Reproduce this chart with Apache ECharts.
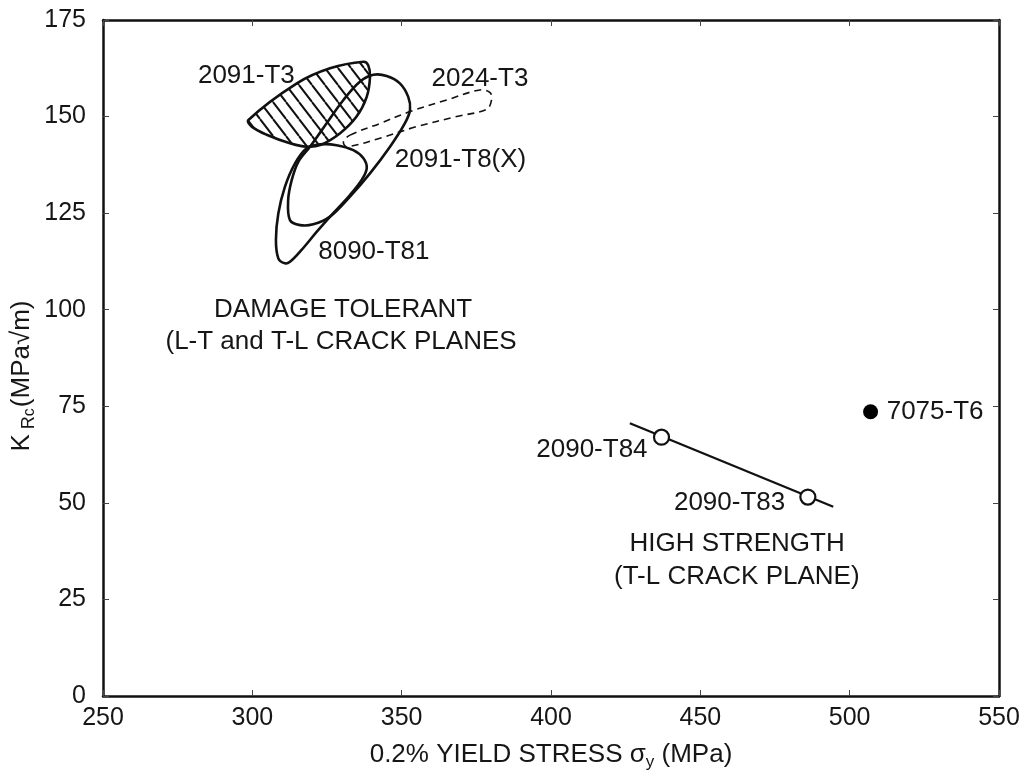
<!DOCTYPE html>
<html>
<head>
<meta charset="utf-8">
<script src="https://cdn.jsdelivr.net/npm/echarts@6/dist/echarts.min.js"></script>
<style>
  html, body { margin: 0; padding: 0; background: #fff; }
  #chart { width: 1029px; height: 772px; }
</style>
</head>
<body>
<div id="chart"></div>
<script>
// Axis ranges: 0.2% yield stress (MPa) and K_Rc (MPa√m)
const xRange = [250, 550, 50];
const yRange = [0, 175, 25];

// Outlines of the property bands, [yield stress, K_Rc]
const band2091T3 = [
  [298.7, 149.1], [314.9, 158.6], [326.0, 162.5], [337.2, 164.2], [338.8, 163.3],
  [339.4, 160.3], [338.3, 155.1], [334.9, 150.0], [329.4, 145.7], [322.7, 142.6],
  [318.2, 142.2], [312.6, 143.1], [304.8, 145.3], [299.8, 147.4]
];
const band2091T8X = [
  [312.6, 123.2], [312.0, 128.4], [313.2, 133.6], [315.4, 138.3], [319.3, 142.2],
  [324.9, 148.3], [330.5, 154.3], [336.0, 159.0], [340.5, 160.8], [345.0, 160.5],
  [349.4, 158.6], [352.2, 155.1], [352.8, 151.7], [351.1, 148.3], [346.1, 142.2],
  [339.4, 135.3], [332.7, 129.3], [326.0, 124.1], [320.4, 122.1], [316.0, 121.9]
];
const band8090T81 = [
  [310.9, 112.0], [308.7, 113.3], [307.9, 118.1], [308.7, 124.9], [310.9, 131.8],
  [314.3, 137.9], [318.2, 141.8], [322.7, 142.8], [328.2, 142.6], [333.8, 141.3],
  [337.2, 139.2], [338.3, 136.6], [336.6, 133.6], [332.7, 129.7], [327.1, 125.0],
  [321.6, 120.2], [316.5, 115.5], [312.6, 112.4]
];
const band2024T3 = [
  [332.7, 145.2], [342.7, 148.2], [352.8, 151.3], [365.1, 154.3], [376.2, 156.9],
  [379.6, 156.2], [380.1, 154.3], [378.5, 151.9], [368.4, 150.0], [355.0, 147.4],
  [342.7, 144.4], [331.6, 142.2], [330.5, 143.5]
];

// High-strength alloys
const trend2090 = [[426.4, 70.6], [494.5, 49.0]];
const alloys2090 = [[437.0, 67.0], [486.0, 51.5]];
const alloy7075 = [[507.0, 73.6]];

// Text notes anchored at [yield stress, K_Rc]
const notes = [
  [298.0, 160.6, '2091-T3'],
  [376.2, 159.9, '2024-T3'],
  [369.7, 138.8, '2091-T8(X)'],
  [340.7, 115.0, '8090-T81'],
  [330.4, 99.9, 'DAMAGE TOLERANT'],
  [329.7, 91.7, '(L-T and T-L CRACK PLANES'],
  [413.7, 63.6, '2090-T84'],
  [459.8, 50.0, '2090-T83'],
  [462.3, 39.3, 'HIGH STRENGTH'],
  [462.2, 30.8, '(T-L CRACK PLANE)'],
  [528.6, 73.6, '7075-T6']
];

const FONT = '"Liberation Sans", Arial, Helvetica, sans-serif';
const INK = '#111';
const TEXT = '#161616';

// Diagonal hatching used to fill the 2091-T3 band
function hatchPattern() {
  const w = 13, h = 17;
  const c = document.createElement('canvas');
  c.width = w; c.height = h;
  const g = c.getContext('2d');
  g.strokeStyle = INK;
  g.lineWidth = 2;
  g.beginPath();
  for (const dx of [-w, 0, w]) {
    g.moveTo(dx, 0);
    g.lineTo(dx + w, h);
  }
  g.stroke();
  return c;
}
const hatch = hatchPattern();

// One closed, smoothed outline per band, projected through the cartesian axes
function outlineSeries(points, style) {
  return {
    type: 'custom',
    coordinateSystem: 'cartesian2d',
    data: points,
    silent: true,
    z: style.z || 2,
    renderItem: function (params, api) {
      if (params.dataIndex !== 0) return;
      const pts = points.map(p => api.coord(p));
      return {
        type: 'polygon',
        shape: { points: pts, smooth: 0.35 },
        style: {
          fill: style.fill || 'none',
          stroke: INK,
          lineWidth: style.lineWidth || 2.6,
          lineDash: style.lineDash || null
        }
      };
    }
  };
}

const chart = echarts.init(document.getElementById('chart'), null, { renderer: 'canvas' });

const axisCommon = {
  type: 'value',
  axisLine: { show: true, onZero: false, lineStyle: { color: INK, width: 2.5 } },
  axisTick: { show: true, inside: true, length: 6, lineStyle: { color: '#444', width: 1 } },
  splitLine: { show: false }
};

chart.setOption({
  backgroundColor: '#fff',
  animation: false,
  grid: { left: 103, right: 30, top: 20, bottom: 76, containLabel: false, outerBoundsMode: 'none' },
  xAxis: [
    Object.assign({}, axisCommon, {
      min: xRange[0], max: xRange[1], interval: xRange[2],
      position: 'bottom',
      axisLabel: { color: TEXT, fontFamily: FONT, fontSize: 25, margin: 10 },
      name: '{t|0.2% YIELD STRESS σ}{s|y}{t| (MPa)}',
      nameLocation: 'middle',
      nameGap: 43,
      nameTextStyle: {
        rich: {
          t: { fontFamily: FONT, fontSize: 26, color: TEXT, lineHeight: 32 },
          s: { fontFamily: FONT, fontSize: 17, color: TEXT, verticalAlign: 'bottom', padding: [10, 0, 0, 0] }
        }
      }
    }),
    Object.assign({}, axisCommon, {
      min: xRange[0], max: xRange[1], interval: xRange[2],
      position: 'top',
      axisLabel: { show: false }
    })
  ],
  yAxis: [
    Object.assign({}, axisCommon, {
      min: yRange[0], max: yRange[1], interval: yRange[2],
      position: 'left',
      axisLabel: { color: TEXT, fontFamily: FONT, fontSize: 25, margin: 17 }
    }),
    Object.assign({}, axisCommon, {
      min: yRange[0], max: yRange[1], interval: yRange[2],
      position: 'right',
      axisLabel: { show: false }
    })
  ],
  graphic: [{
    type: 'text',
    x: 22,
    y: 376,
    rotation: Math.PI / 2,
    style: {
      text: '{t|K}{r| R}{c|c}{t|(MPa√m)}',
      align: 'center',
      verticalAlign: 'middle',
      rich: {
        t: { fontFamily: FONT, fontSize: 26, fill: TEXT, lineHeight: 32 },
        r: { fontFamily: FONT, fontSize: 18, fill: TEXT, verticalAlign: 'bottom', padding: [6, 0, 0, 0] },
        c: { fontFamily: FONT, fontSize: 16, fill: TEXT, verticalAlign: 'bottom', padding: [10, 1, 0, 0] }
      }
    }
  }],
  series: [
    outlineSeries(band2024T3, { lineWidth: 1.6, lineDash: [7, 5], z: 1 }),
    outlineSeries(band8090T81, { z: 2 }),
    outlineSeries(band2091T8X, { z: 3 }),
    outlineSeries(band2091T3, { fill: { image: hatch, repeat: 'repeat' }, z: 4 }),
    {
      type: 'line',
      data: trend2090,
      symbol: 'none',
      silent: true,
      lineStyle: { color: INK, width: 2.3, opacity: 1 },
      z: 5
    },
    {
      type: 'scatter',
      data: alloys2090,
      symbol: 'circle',
      symbolSize: 15,
      silent: true,
      itemStyle: { color: '#fff', borderColor: INK, borderWidth: 2.2, opacity: 1 },
      z: 6
    },
    {
      type: 'scatter',
      data: alloy7075,
      symbol: 'circle',
      symbolSize: 15,
      silent: true,
      itemStyle: { color: '#000', opacity: 1 },
      z: 6
    },
    {
      type: 'scatter',
      data: notes.map(n => ({ value: [n[0], n[1]], name: n[2] })),
      symbolSize: 0,
      silent: true,
      itemStyle: { opacity: 1 },
      label: {
        show: true,
        position: 'inside',
        formatter: p => p.name,
        fontFamily: FONT,
        fontSize: 26,
        color: TEXT,
        opacity: 1
      },
      z: 7
    }
  ]
});
</script>
</body>
</html>
